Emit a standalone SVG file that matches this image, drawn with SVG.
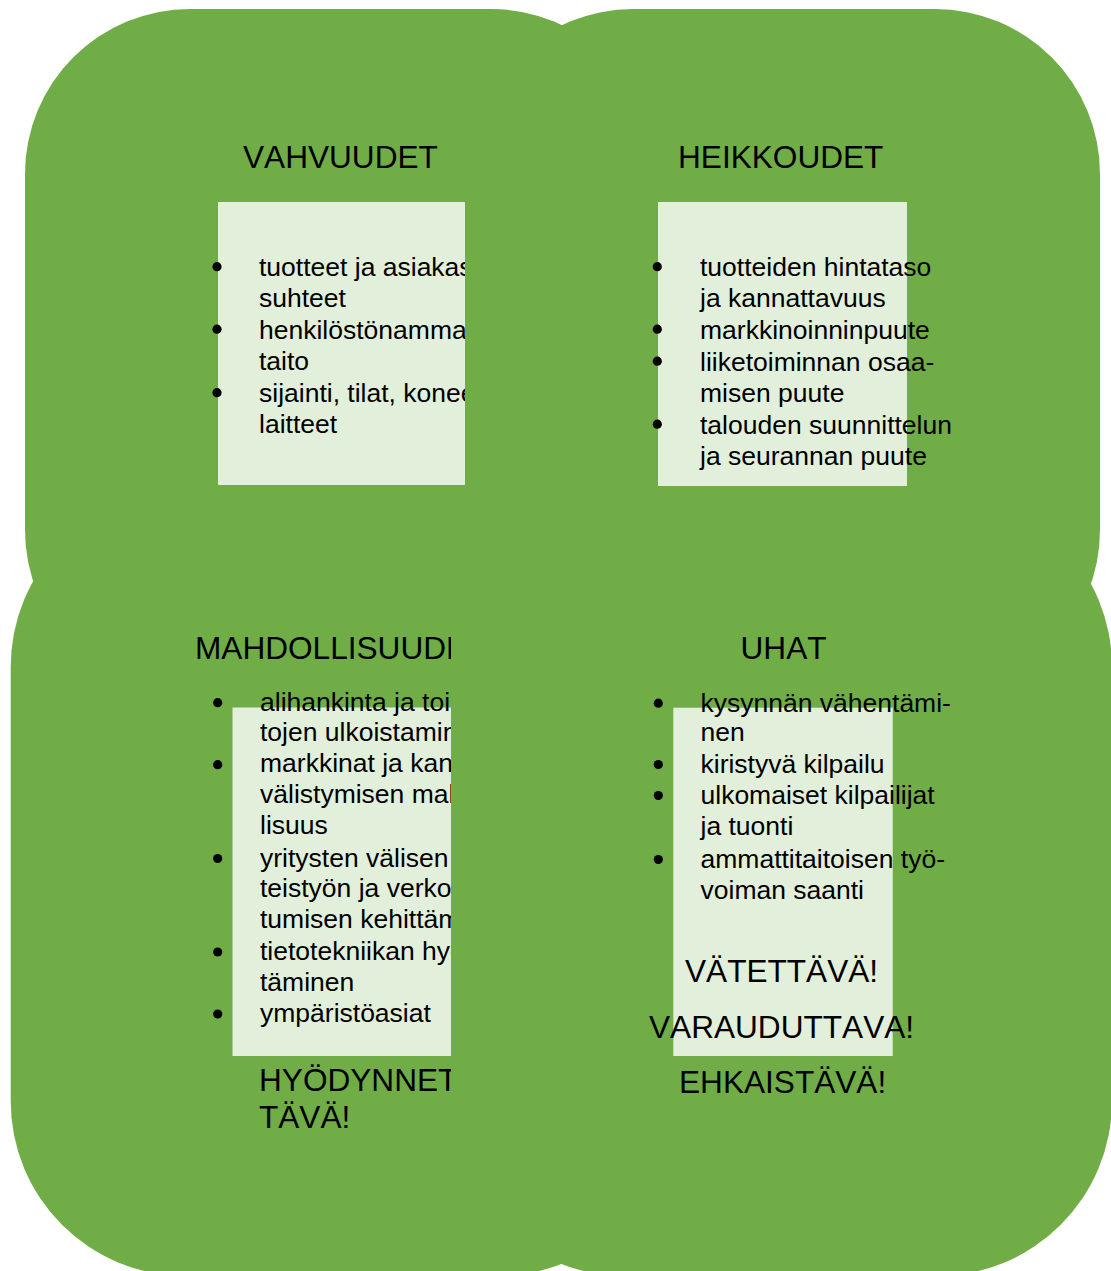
<svg xmlns="http://www.w3.org/2000/svg" width="1111" height="1271" viewBox="0 0 1111 1271">
<style>
.shape{fill:#70AD47;}
.box{fill:#E2EFDA;}
.dot{fill:#000;}
.h{font-family:"Liberation Sans",Arial,sans-serif;font-size:31.6px;fill:#000;font-kerning:none;}
.t{font-family:"Liberation Sans",Arial,sans-serif;font-size:26.5px;fill:#000;font-kerning:none;}
</style>
<defs>
<clipPath id="clipTL"><rect x="0" y="0" width="465" height="700"/></clipPath>
<clipPath id="clipBL"><rect x="0" y="600" width="451" height="671"/></clipPath>
</defs>
<g id="backgrounds">
<rect class="shape" x="10.7" y="492" width="662" height="784" rx="175" ry="175"/>
<rect class="shape" x="450" y="492" width="662" height="784" rx="175" ry="175"/>
<rect class="shape" x="25" y="9" width="631" height="686" rx="165" ry="165"/>
<rect class="shape" x="468" y="9" width="632" height="686" rx="165" ry="165"/>
</g>
<g id="connectors"></g>
<g id="node-vahvuudet">
<rect class="box" x="218" y="202" width="247" height="283"/>
<text class="h" x="243" y="168">VAHVUUDET</text>
<circle class="dot" cx="217" cy="266.7" r="4.6"/>
<circle class="dot" cx="217" cy="329.2" r="4.6"/>
<circle class="dot" cx="217" cy="392.7" r="4.6"/>
<g clip-path="url(#clipTL)">
<text class="t" x="259" y="276">tuotteet ja asiakas</text>
<text class="t" x="259" y="306.5">suhteet</text>
<text class="t" x="259" y="338.5">henkilöstönamma</text>
<text class="t" x="259" y="369.5">taito</text>
<text class="t" x="259" y="402">sijainti, tilat, konee</text>
<text class="t" x="259" y="432.5">laitteet</text>
</g>
</g>
<g id="node-heikkoudet">
<rect class="box" x="658" y="202" width="249" height="284"/>
<text class="h" x="678" y="168">HEIKKOUDET</text>
<circle class="dot" cx="657.3" cy="266.7" r="4.6"/>
<circle class="dot" cx="657.3" cy="329.2" r="4.6"/>
<circle class="dot" cx="657.3" cy="361.2" r="4.6"/>
<circle class="dot" cx="657.3" cy="424.2" r="4.6"/>
<text class="t" x="700" y="276">tuotteiden hintataso</text>
<text class="t" x="700" y="306.5">ja kannattavuus</text>
<text class="t" x="700" y="338.5">markkinoinninpuute</text>
<text class="t" x="700" y="370.5">liiketoiminnan osaa-</text>
<text class="t" x="700" y="401.5">misen puute</text>
<text class="t" x="700" y="433.5">talouden suunnittelun</text>
<text class="t" x="700" y="464.5">ja seurannan puute</text>
</g>
<g id="node-mahdollisuudet">
<rect class="box" x="232.5" y="707.5" width="218.5" height="348.5"/>
<circle class="dot" cx="217.7" cy="702.7" r="4.6"/>
<circle class="dot" cx="217.7" cy="764.7" r="4.6"/>
<circle class="dot" cx="217.7" cy="858.5" r="4.6"/>
<circle class="dot" cx="217.7" cy="952" r="4.6"/>
<circle class="dot" cx="217.7" cy="1014" r="4.6"/>
<g clip-path="url(#clipBL)">
<text class="h" x="195" y="659">MAHDOLLISUUDE</text>
<text class="t" x="260" y="711">alihankinta ja toim</text>
<text class="t" x="260" y="741">tojen ulkoistamin</text>
<text class="t" x="260" y="772">markkinat ja kan</text>
<text class="t" x="260" y="803">välistymisen mah</text>
<text class="t" x="260" y="834">lisuus</text>
<text class="t" x="260" y="866.5">yritysten välisen</text>
<text class="t" x="260" y="897">teistyön ja verkos</text>
<text class="t" x="260" y="927.5">tumisen kehittäm</text>
<text class="t" x="260" y="960">tietotekniikan hyö</text>
<text class="t" x="260" y="990.5">täminen</text>
<text class="t" x="260" y="1022">ympäristöasiat</text>
<text class="h" x="259" y="1091">HYÖDYNNET</text>
<text class="h" x="259" y="1128">TÄVÄ!</text>
</g>
</g>
<g id="node-uhat">
<rect class="box" x="673.3" y="707.7" width="219.4" height="348.3"/>
<text class="h" x="740.5" y="659">UHAT</text>
<circle class="dot" cx="658.3" cy="703.2" r="4.6"/>
<circle class="dot" cx="658.3" cy="764.5" r="4.6"/>
<circle class="dot" cx="658.3" cy="795.5" r="4.6"/>
<circle class="dot" cx="658.3" cy="859.5" r="4.6"/>
<text class="t" x="700.5" y="711.5">kysynnän vähentämi-</text>
<text class="t" x="700.5" y="741">nen</text>
<text class="t" x="700.5" y="773">kiristyvä kilpailu</text>
<text class="t" x="700.5" y="804">ulkomaiset kilpailijat</text>
<text class="t" x="700.5" y="835">ja tuonti</text>
<text class="t" x="700.5" y="868">ammattitaitoisen työ-</text>
<text class="t" x="700.5" y="899">voiman saanti</text>
<text class="h" x="685" y="982">VÄTETTÄVÄ!</text>
<text class="h" x="649" y="1038">VARAUDUTTAVA!</text>
<text class="h" x="679" y="1093">EHKAISTÄVÄ!</text>
</g>
</svg>
